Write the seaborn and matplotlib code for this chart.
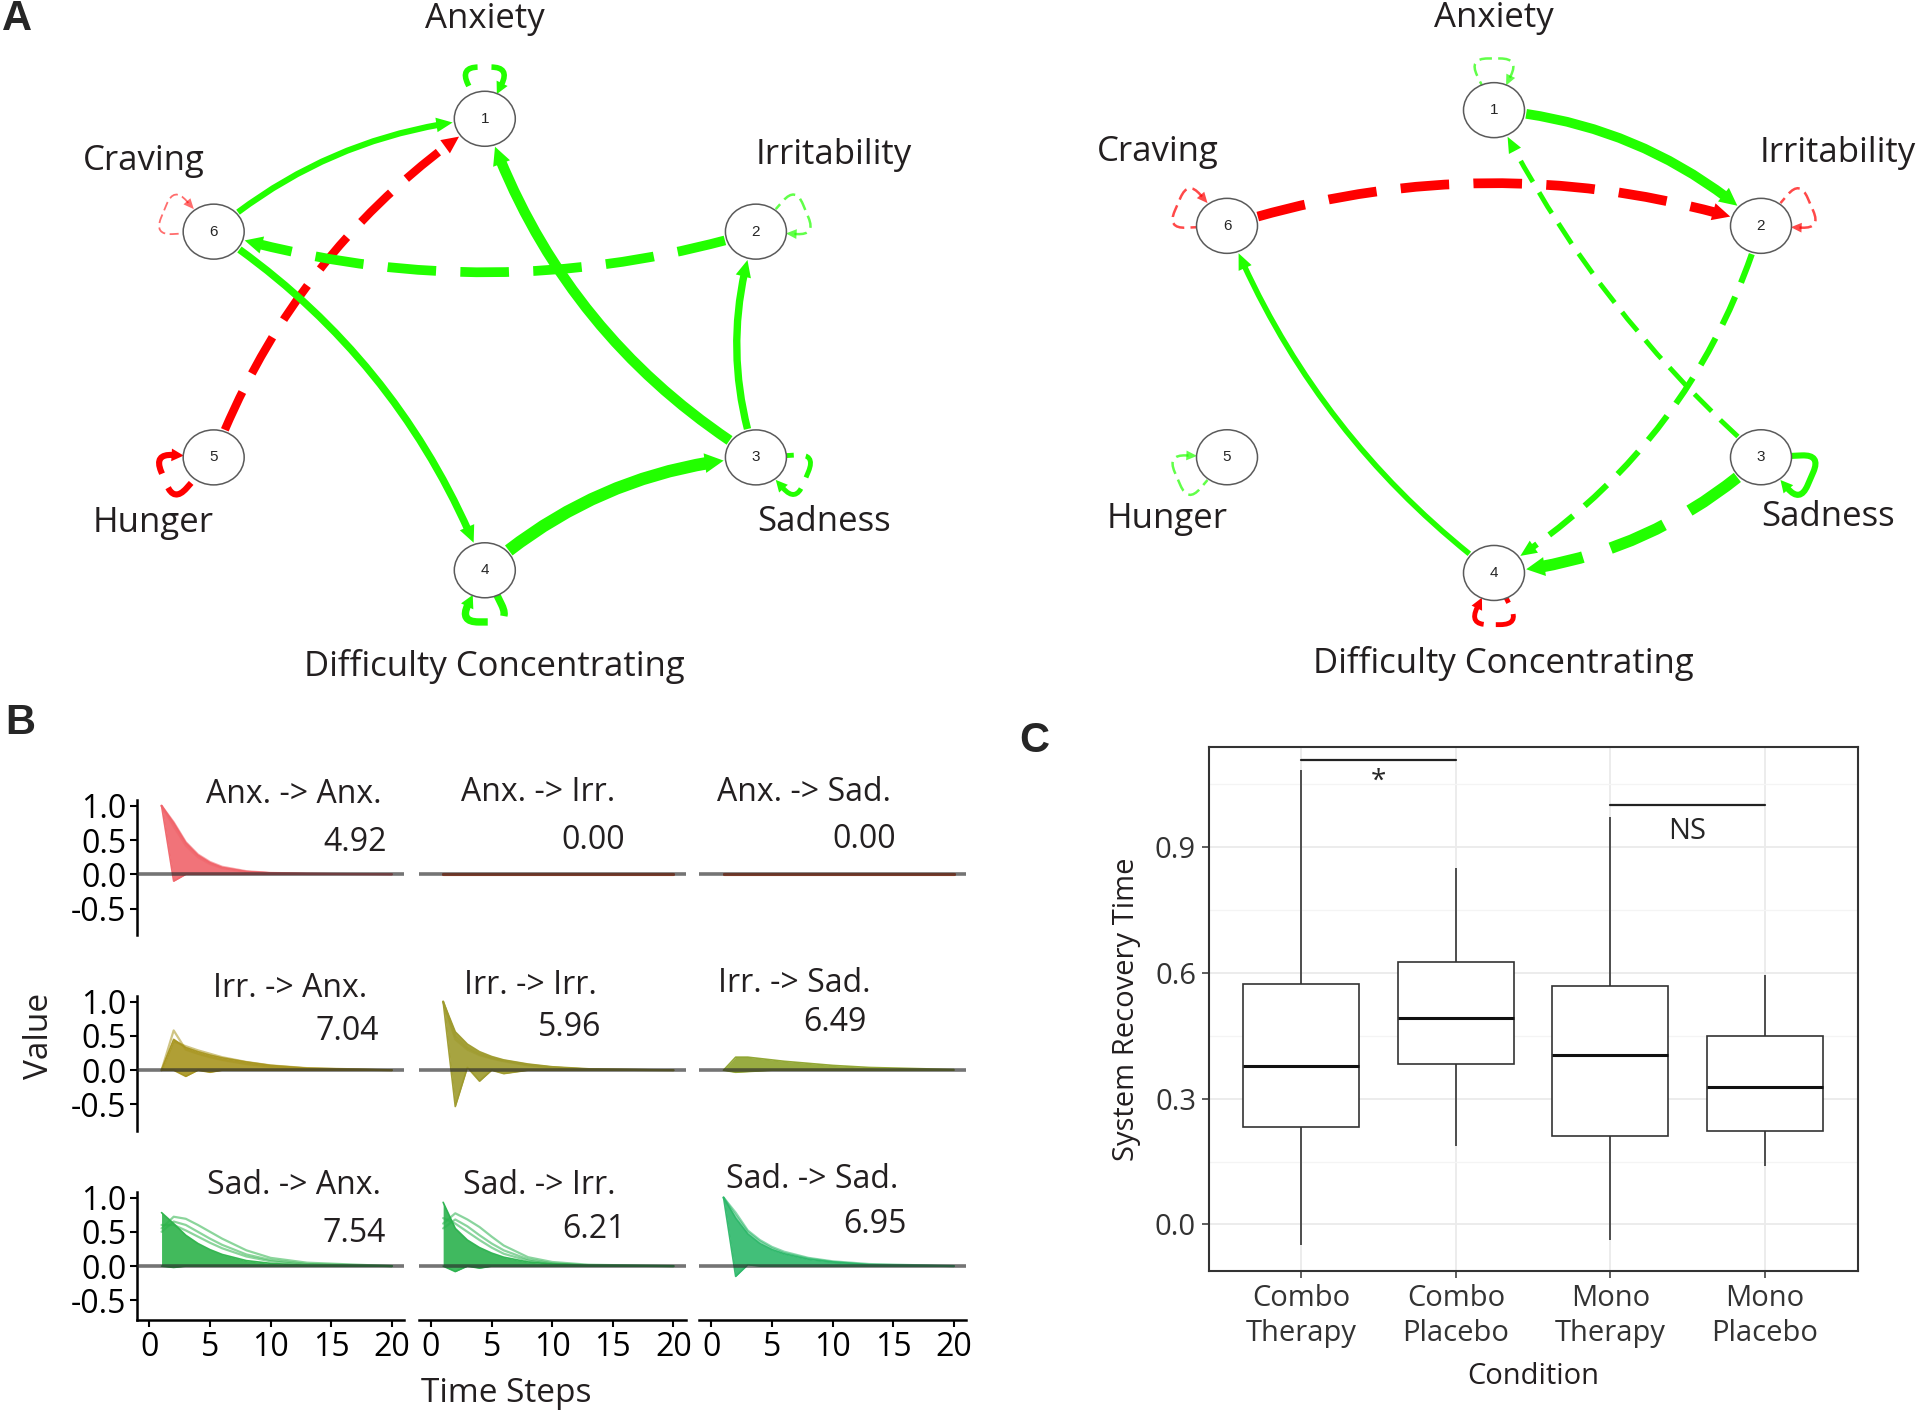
import numpy as np
import pandas as pd
import matplotlib
matplotlib.use("Agg")
import matplotlib.pyplot as plt
import seaborn as sns
from matplotlib.patches import Ellipse, FancyArrowPatch

W, H, DPI = 1920, 1414, 100

sns.set_theme(style="white")
plt.rcParams["font.family"] = ["Open Sans", "DejaVu Sans"]
plt.rcParams["axes.unicode_minus"] = False

# ---------------- A: networks ----------------
node_ids = ["1", "2", "3", "4", "5", "6"]
node_x = [0.0, 0.866, 0.866, 0.0, -0.866, -0.866]
node_y = [1.0, 0.5, -0.5, -1.0, -0.5, 0.5]
node_names = ["Anxiety", "Irritability", "Sadness", "Difficulty Concentrating", "Hunger", "Craving"]
name_x = [0.0, 1.115, 1.082, 0.031, -1.06, -1.09]
name_y_left = [1.44, 0.84, -0.785, -1.425, -0.79, 0.815]
name_y_right = [1.40, 0.815, -0.76, -1.39, -0.765, 0.82]

# (from, to, weight, sign, dashed)
edges_left = [(6, 1, 4.4, 1, False), (5, 1, 6.0, -1, True), (2, 6, 7.0, 1, True),
              (6, 4, 5.3, 1, False), (3, 1, 7.5, 1, False), (3, 2, 5.3, 1, False),
              (4, 3, 9.0, 1, False)]
bend_left = [-0.16, -0.16, -0.15, -0.16, -0.18, -0.17, -0.17]
loops_left = [(1, 4.0, 1, True), (2, 1.8, 1, True), (3, 3.5, 1, True),
              (4, 5.3, 1, True), (5, 4.4, -1, True), (6, 1.3, -1, True)]

edges_right = [(1, 2, 7.0, 1, False), (6, 2, 7.0, -1, True), (3, 1, 3.5, 1, True),
               (2, 4, 4.4, 1, True), (3, 4, 8.4, 1, True), (4, 6, 4.0, 1, False)]
bend_right = [-0.17, -0.16, -0.10, -0.19, -0.17, -0.14]
loops_right = [(1, 1.8, 1, True), (2, 1.8, -1, True), (3, 4.4, 1, False),
               (4, 3.5, -1, True), (5, 1.8, 1, True), (6, 1.8, -1, True)]

POS, NEG = "#22FF00", "#FF0000"
NODE_W, NODE_H = 61, 55  # px

# ---------------- B: impulse responses ----------------
T = [1, 2, 3, 4, 5, 6, 8, 10, 13, 20]

anx_anx_hi = [1.0, 0.75, 0.46, 0.28, 0.17, 0.10, 0.04, 0.02, 0.01, 0.0]
anx_anx_lo = [1.0, -0.10, 0.0, 0.0, 0.0, 0.0, 0.0, 0.0, 0.0, 0.0]
anx_anx_lines = [[1.0, 0.76, 0.47, 0.29, 0.18, 0.11, 0.045, 0.02, 0.01, 0.0],
                 [1.0, 0.70, 0.42, 0.25, 0.15, 0.09, 0.035, 0.015, 0.005, 0.0]]

anx_irr_hi = [0.0] * 10
anx_irr_lo = [0.0] * 10
anx_irr_lines = []

anx_sad_hi = [0.0] * 10
anx_sad_lo = [0.0] * 10
anx_sad_lines = []

irr_anx_hi = [0.0, 0.45, 0.33, 0.27, 0.22, 0.18, 0.12, 0.07, 0.03, 0.0]
irr_anx_lo = [0.0, 0.0, -0.09, 0.0, -0.03, 0.0, 0.0, 0.0, 0.0, 0.0]
irr_anx_lines = [[0.0, 0.58, 0.30, 0.24, 0.19, 0.15, 0.09, 0.05, 0.02, 0.0],
                 [0.0, 0.42, 0.35, 0.29, 0.24, 0.19, 0.12, 0.07, 0.03, 0.0]]

irr_irr_hi = [1.0, 0.56, 0.38, 0.27, 0.20, 0.15, 0.09, 0.05, 0.02, 0.0]
irr_irr_lo = [1.0, -0.53, 0.04, -0.16, 0.0, -0.05, 0.0, 0.0, 0.0, 0.0]
irr_irr_lines = [[1.0, 0.50, 0.33, 0.24, 0.18, 0.14, 0.08, 0.04, 0.01, 0.0],
                 [1.0, 0.45, 0.30, 0.22, 0.17, 0.13, 0.07, 0.04, 0.01, 0.0]]

irr_sad_hi = [0.0, 0.19, 0.19, 0.17, 0.15, 0.13, 0.10, 0.07, 0.04, 0.01]
irr_sad_lo = [0.0, -0.03, -0.02, -0.01, 0.0, 0.0, 0.0, 0.0, 0.0, 0.0]
irr_sad_lines = []

sad_anx_hi = [0.78, 0.62, 0.45, 0.33, 0.24, 0.17, 0.08, 0.04, 0.01, 0.0]
sad_anx_lo = [0.0, -0.02, 0.0, 0.0, 0.0, 0.0, 0.0, 0.0, 0.0, 0.0]
sad_anx_lines = [[0.55, 0.72, 0.69, 0.60, 0.50, 0.40, 0.23, 0.12, 0.05, 0.0],
                 [0.50, 0.65, 0.60, 0.50, 0.40, 0.31, 0.17, 0.09, 0.03, 0.0],
                 [0.60, 0.60, 0.52, 0.43, 0.34, 0.26, 0.14, 0.07, 0.02, 0.0]]

sad_irr_hi = [0.93, 0.55, 0.38, 0.27, 0.19, 0.13, 0.06, 0.03, 0.01, 0.0]
sad_irr_lo = [0.0, -0.08, 0.0, -0.03, 0.0, 0.0, 0.0, 0.0, 0.0, 0.0]
sad_irr_lines = [[0.62, 0.77, 0.68, 0.57, 0.43, 0.30, 0.13, 0.06, 0.02, 0.0],
                 [0.55, 0.68, 0.58, 0.45, 0.33, 0.23, 0.10, 0.04, 0.01, 0.0],
                 [0.70, 0.62, 0.50, 0.38, 0.27, 0.18, 0.08, 0.03, 0.01, 0.0]]

sad_sad_hi = [1.0, 0.70, 0.47, 0.33, 0.24, 0.18, 0.10, 0.06, 0.02, 0.0]
sad_sad_lo = [1.0, -0.15, 0.02, 0.0, 0.0, 0.0, 0.0, 0.0, 0.0, 0.0]
sad_sad_lines = [[1.0, 0.78, 0.52, 0.38, 0.28, 0.21, 0.12, 0.07, 0.03, 0.0],
                 [1.0, 0.74, 0.50, 0.36, 0.26, 0.19, 0.11, 0.06, 0.02, 0.0]]

irf_titles = ["Anx. -> Anx.", "Anx. -> Irr.", "Anx. -> Sad.",
              "Irr. -> Anx.", "Irr. -> Irr.", "Irr. -> Sad.",
              "Sad. -> Anx.", "Sad. -> Irr.", "Sad. -> Sad."]
irf_values = ["4.92", "0.00", "0.00", "7.04", "5.96", "6.49", "7.54", "6.21", "6.95"]

# ---------------- C: recovery time ----------------
conditions = ["Combo\nTherapy", "Combo\nPlacebo", "Mono\nTherapy", "Mono\nPlacebo"]
combo_therapy = [-0.05, 0.232, 0.378, 0.574, 1.085]
combo_placebo = [0.186, 0.382, 0.492, 0.627, 0.850]
mono_therapy = [-0.037, 0.212, 0.404, 0.568, 0.973]
mono_placebo = [0.139, 0.222, 0.328, 0.449, 0.594]
sig_from = [0, 2]
sig_to = [1, 3]
sig_level = [1.107, 1.0]
sig_text = ["*", "NS"]

fig = plt.figure(figsize=(W / DPI, H / DPI), dpi=DPI)
fig.patch.set_facecolor("white")
PX_PER_PT = DPI / 72


def draw_network(rect, edges, bends, loops, name_y):
    ax = fig.add_axes(rect)
    ax.set_xlim(-1.3, 1.3)
    ax.set_ylim(-1.3, 1.3)
    ax.axis("off")
    sx = rect[2] * W / 2.6
    sy = rect[3] * H / 2.6
    nodes = []
    for i in range(6):
        e = Ellipse((node_x[i], node_y[i]), NODE_W / sx, NODE_H / sy,
                    facecolor="white", edgecolor="#5a5a5a", lw=1.1, zorder=4)
        ax.add_patch(e)
        nodes.append(e)
        ax.text(node_x[i], node_y[i], node_ids[i], ha="center", va="center",
                fontsize=11, zorder=5, family=["Liberation Sans", "DejaVu Sans"])
        ax.text(name_x[i], name_y[i], node_names[i], ha="center", va="center",
                fontsize=25, color="#231f20")

    for (a, b, wgt, sign, dashed), bend in zip(edges, bends):
        col = POS if sign > 0 else NEG
        ls = (0, (5, 2.5)) if dashed else "-"
        hl, hw = 10 + 0.4 * wgt, 3.5 + 0.4 * wgt
        pa, pb = (node_x[a - 1], node_y[a - 1]), (node_x[b - 1], node_y[b - 1])
        cs = f"arc3,rad={bend}"
        ax.add_patch(FancyArrowPatch(pa, pb, connectionstyle=cs, arrowstyle="-",
                                     patchA=nodes[a - 1], patchB=nodes[b - 1],
                                     shrinkA=1, shrinkB=hl * 0.8, lw=wgt, color=col,
                                     linestyle=ls, capstyle="butt", zorder=3))
        ax.add_patch(FancyArrowPatch(pa, pb, connectionstyle=cs,
                                     arrowstyle=f"-|>,head_length={hl},head_width={hw}",
                                     patchA=nodes[a - 1], patchB=nodes[b - 1],
                                     shrinkA=1, shrinkB=1, lw=0, color=col, zorder=3))

    for n, wgt, sign, dashed in loops:
        i = n - 1
        col = POS if sign > 0 else NEG
        ls = (0, (5, 2.5)) if dashed else "-"
        alpha = min(1.0, 0.2 + wgt / 3.5)
        hl, hw = 7 + 0.4 * wgt, 2.8 + 0.4 * wgt
        ang = np.degrees(np.arctan2(node_y[i] * sy, node_x[i] * sx))
        t = np.radians(ang)
        a_px, b_px = NODE_W / 2, NODE_H / 2
        r_px = a_px * b_px / np.hypot(b_px * np.cos(t), a_px * np.sin(t))
        r_pt = r_px / PX_PER_PT
        arm = r_px + 30  # connection style arms are in pixels
        dep, arr = ang + 26, ang - 26
        p = (node_x[i], node_y[i])
        cs_head = f"arc,angleA={dep},angleB={arr},armA={arm},armB={arm},rad=19"
        cs_body = f"arc,angleA={arr},angleB={dep},armA={arm},armB={arm},rad=19"
        ax.add_patch(FancyArrowPatch(p, p, connectionstyle=cs_body, arrowstyle="-",
                                     shrinkA=r_pt + hl * 0.8, shrinkB=r_pt, lw=wgt,
                                     color=col, alpha=alpha, linestyle=ls,
                                     capstyle="butt", zorder=3))
        ax.add_patch(FancyArrowPatch(p, p, connectionstyle=cs_head,
                                     arrowstyle=f"-|>,head_length={hl},head_width={hw}",
                                     shrinkA=r_pt + 2, shrinkB=r_pt, lw=0, color=col,
                                     alpha=alpha, zorder=3))
    return ax


draw_network([77.8 / W, 0.5488, 814 / W, 0.4151], edges_left, bend_left, loops_left,
             name_y_left)
draw_network([1093.2 / W, 0.5457, 801.6 / W, 0.4255], edges_right, bend_right,
             loops_right, name_y_right)

# ---------------- panel B ----------------
panels = [
    (anx_anx_hi, anx_anx_lo, anx_anx_lines), (anx_irr_hi, anx_irr_lo, anx_irr_lines),
    (anx_sad_hi, anx_sad_lo, anx_sad_lines), (irr_anx_hi, irr_anx_lo, irr_anx_lines),
    (irr_irr_hi, irr_irr_lo, irr_irr_lines), (irr_sad_hi, irr_sad_lo, irr_sad_lines),
    (sad_anx_hi, sad_anx_lo, sad_anx_lines), (sad_irr_hi, sad_irr_lo, sad_irr_lines),
    (sad_sad_hi, sad_sad_lo, sad_sad_lines),
]
panel_colors = ["#F0646A", "#D8502A", "#D8502A", "#A8951F", "#9E9A2C",
                "#8DA32C", "#2DB34A", "#2BB24E", "#2DB86A"]
title_pos = [(11.9, 1.17), (8.8, 1.19), (7.65, 1.19), (11.6, 1.19), (8.24, 1.23),
             (6.8, 1.26), (11.9, 1.17), (8.96, 1.17), (8.3, 1.27)]
value_pos = [(19.6, 0.47), (16.0, 0.49), (15.25, 0.51), (18.9, 0.56), (14.05, 0.62),
             (12.8, 0.69), (19.5, 0.48), (16.1, 0.53), (16.1, 0.61)]

col_left = [137.3, 418.9, 699.3]
col_w = 266.7
zero_y = [874.3, 1070.2, 1266.1]
yscale = 68.57
row_ylim = [(-0.88, 1.08), (-0.88, 1.08), (-0.79, 1.08)]

rows = []
for k, (hi, lo, lines) in enumerate(panels):
    for j, v in enumerate(hi):
        rows.append((k, "hi", T[j], v))
    for j, v in enumerate(lo):
        rows.append((k, "lo", T[j], v))
    for m, ln in enumerate(lines):
        for j, v in enumerate(ln):
            rows.append((k, f"s{m}", T[j], v))
irf = pd.DataFrame(rows, columns=["panel", "curve", "t", "value"])

for k, (hi, lo, lines) in enumerate(panels):
    r, c = divmod(k, 3)
    y0, y1 = row_ylim[r]
    top_px = zero_y[r] - y1 * yscale
    bot_px = zero_y[r] - y0 * yscale
    ax = fig.add_axes([col_left[c] / W, 1 - bot_px / H, col_w / W, (bot_px - top_px) / H])
    ax.set_facecolor("none")
    col = panel_colors[k]
    ax.fill_between(T, lo, hi, color=col, alpha=0.9, lw=0, zorder=2)
    sub = irf[irf.panel == k]
    body = sub[sub.curve.isin(["hi", "lo"])]
    sns.lineplot(data=body, x="t", y="value", units="curve", estimator=None,
                 color=col, lw=2.2 if k in (1, 2) else 1.2, alpha=0.95, ax=ax,
                 legend=False, zorder=3)
    streak = sub[~sub.curve.isin(["hi", "lo"])]
    if len(streak):
        sns.lineplot(data=streak, x="t", y="value", units="curve", estimator=None,
                     color=col, lw=1.6, alpha=0.55, ax=ax, legend=False, zorder=3)
    ax.axhline(0, color="#2a2a2a", alpha=0.65, lw=2.6, zorder=5)
    ax.set_xlim(-1, 21)
    ax.set_ylim(y0, y1)
    ax.set_xlabel("")
    ax.set_ylabel("")
    sns.despine(ax=ax, left=(c != 0), bottom=(r != 2))
    for sp in ax.spines.values():
        sp.set_color("black")
        sp.set_linewidth(1.8)
    if c == 0:
        ax.set_yticks([-0.5, 0.0, 0.5, 1.0])
        ax.set_yticklabels(["-0.5", "0.0", "0.5", "1.0"])
    else:
        ax.set_yticks([])
    if r == 2:
        ax.set_xticks([0, 5, 10, 15, 20])
        ax.set_xticklabels(["0", "5", "10", "15", "20"])
    else:
        ax.set_xticks([])
    ax.tick_params(axis="both", labelsize=23, length=5, width=1.5, color="black",
                   labelcolor="black", pad=3, direction="out",
                   left=(c == 0), bottom=(r == 2))
    ax.text(title_pos[k][0], title_pos[k][1], irf_titles[k], ha="center",
            va="center", fontsize=23, color="#231f20")
    ax.text(value_pos[k][0], value_pos[k][1], irf_values[k], ha="right",
            va="center", fontsize=23, color="#231f20")

fig.text(39 / W, 1 - 1036 / H, "Value", rotation=90, ha="center", va="center",
         fontsize=24, color="#231f20")
fig.text(506 / W, 1 - 1393 / H, "Time Steps", ha="center", va="center",
         fontsize=24, color="#231f20")

# ---------------- panel C ----------------
df_c = pd.DataFrame({
    "Condition": np.repeat(conditions, 5),
    "time": combo_therapy + combo_placebo + mono_therapy + mono_placebo,
})
ax_c = fig.add_axes([1208.6 / W, 1 - 1271 / H, 649 / W, 524 / H])
ax_c.set_axisbelow(True)
sns.boxplot(data=df_c, x="Condition", y="time", order=conditions, width=0.75,
            color="white", linecolor="#333333", linewidth=1.2, whis=1.5,
            showcaps=False, showfliers=False,
            medianprops=dict(color="#111111", linewidth=2.2), ax=ax_c)
ax_c.set_xlim(-0.6, 3.6)
ax_c.set_ylim(-0.111, 1.139)
ax_c.set_yticks([0.0, 0.3, 0.6, 0.9])
ax_c.set_yticklabels(["0.0", "0.3", "0.6", "0.9"])
ax_c.set_yticks([0.15, 0.45, 0.75, 1.05], minor=True)
ax_c.grid(which="major", color="#EBEBEB", lw=1.3)
ax_c.grid(which="minor", axis="y", color="#F4F4F4", lw=0.9)
for sp in ax_c.spines.values():
    sp.set_visible(True)
    sp.set_color("#333333")
    sp.set_linewidth(1.5)
ax_c.tick_params(axis="both", which="major", labelsize=21, length=5, width=1.1,
                 color="#333333", labelcolor="#333333", direction="out",
                 left=True, bottom=True, pad=4)
ax_c.tick_params(axis="y", which="minor", left=False)
for lab in ax_c.get_xticklabels():
    lab.set_linespacing(1.3)
ax_c.set_xlabel("Condition", fontsize=21, color="#231f20", labelpad=10)
ax_c.set_ylabel("System Recovery Time", fontsize=21, color="#231f20", labelpad=10)
for a, b, lvl, txt in zip(sig_from, sig_to, sig_level, sig_text):
    ax_c.plot([a, b], [lvl, lvl], color="#222222", lw=1.6)
    if txt == "*":
        ax_c.text((a + b) / 2, lvl - 0.05, txt, ha="center", va="center", fontsize=20)
    else:
        ax_c.text((a + b) / 2, lvl - 0.062, txt, ha="center", va="center", fontsize=21)

# panel letters
for letter, (px, py) in zip(["A", "B", "C"], [(17, 19), (20, 723), (1034, 741)]):
    fig.text(px / W, 1 - py / H, letter, ha="center", va="center", fontsize=30,
             fontweight="bold", family=["Liberation Sans", "DejaVu Sans"])

fig.savefig("out.png", dpi=DPI, facecolor="white")
